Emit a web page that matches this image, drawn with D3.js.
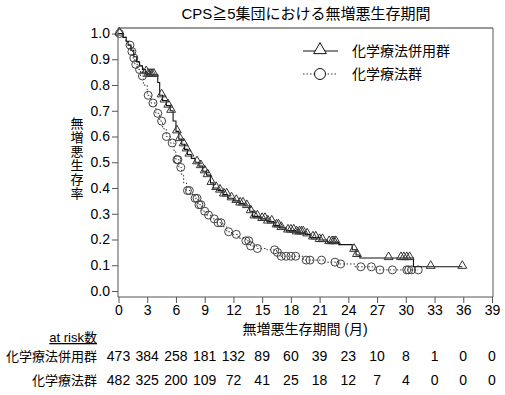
<!DOCTYPE html>
<html><head><meta charset="utf-8">
<script src="https://cdn.jsdelivr.net/npm/d3@7"></script>
<style>
body{margin:0;background:#fff;}
text{font-family:"Liberation Sans","Noto Sans CJK JP",Arial,sans-serif;fill:#000;}
</style></head>
<body><svg id="c" width="505" height="395"></svg>
<script>
const title = "CPS≧5集団における無増悪生存期間";
const groups = ["化学療法併用群", "化学療法群"];
const xTicks = [0,3,6,9,12,15,18,21,24,27,30,33,36,39];
const yTicks = [0,0.1,0.2,0.3,0.4,0.5,0.6,0.7,0.8,0.9,1.0];

// combo arm (solid, triangles): step times and survival
const comboT = [0,0.5,0.8,1.0,1.3,1.6,1.9,2.2,2.5,2.8,3.0,4.1,4.3,4.6,5.0,5.4,5.7,6.0,6.3,6.6,6.9,7.2,7.6,8.0,8.4,8.8,9.2,9.6,9.9,10.4,10.9,11.4,12.0,12.6,13.2,13.7,14.0,14.8,15.5,16.2,16.8,17.5,18.5,19.5,20.0,21.0,21.8,23.0,24.4,24.8,25.2,30.8];
const comboS = [1.0,0.985,0.97,0.955,0.935,0.91,0.89,0.875,0.86,0.85,0.84,0.81,0.76,0.74,0.72,0.70,0.66,0.62,0.59,0.57,0.55,0.53,0.515,0.50,0.485,0.465,0.45,0.42,0.40,0.39,0.375,0.36,0.35,0.34,0.33,0.31,0.29,0.28,0.27,0.255,0.245,0.235,0.228,0.22,0.208,0.198,0.19,0.18,0.16,0.14,0.128,0.094];
const comboEnd = 35.9;
const comboCens = [0.1,2.9,3.1,3.3,3.5,3.7,4.5,4.8,5.2,5.5,6.1,6.4,6.8,7.1,7.4,8.2,8.6,9.0,9.3,9.7,10.2,10.6,11.0,11.3,11.8,12.3,12.7,13.0,13.4,13.8,14.2,14.5,15.0,15.3,15.6,16.0,16.5,16.7,17.0,17.7,18.0,18.3,18.6,18.9,19.1,19.3,19.7,20.3,20.6,21.0,21.3,22.0,22.3,22.5,22.7,24.6,24.9,28.2,29.5,29.8,30.1,30.4,32.6,35.9];

// chemo arm (dotted, circles)
const chemoT = [0,0.4,0.8,1.1,1.3,1.5,1.7,2.0,2.3,2.6,3.0,3.4,3.9,4.3,4.6,5.0,5.4,5.8,6.0,6.3,6.6,6.8,7.1,7.5,8.0,8.3,8.7,9.2,9.6,10.3,10.9,11.3,11.8,12.5,13.3,13.8,14.5,15.5,16.5,16.9,19.3,21.5,23.0,24.7,26.9];
const chemoS = [1.0,0.985,0.97,0.955,0.93,0.905,0.88,0.86,0.835,0.80,0.76,0.73,0.69,0.66,0.63,0.60,0.575,0.54,0.51,0.48,0.45,0.42,0.39,0.375,0.36,0.335,0.31,0.295,0.28,0.265,0.25,0.23,0.22,0.205,0.195,0.175,0.165,0.16,0.15,0.135,0.12,0.112,0.105,0.094,0.082];
const chemoEnd = 31.3;
const chemoCens = [0.1,1.2,1.4,1.6,1.8,2.2,2.5,3.1,3.6,4.1,4.5,5.0,5.6,6.1,6.2,6.5,7.2,7.4,8.0,8.2,8.4,8.6,9.0,9.4,10.0,10.4,10.7,11.5,12.3,13.3,13.6,13.8,14.5,16.3,16.6,17.0,17.5,18.0,18.5,19.6,20.0,21.2,22.6,23.2,25.3,26.4,27.3,28.6,30.1,30.3,30.6,31.3];

const riskCombo = [473,384,258,181,132,89,60,39,23,10,8,1,0,0];
const riskChemo = [482,325,200,109,72,41,25,18,12,7,4,0,0,0];

const svg = d3.select("#c");
const L=118.5, R=492, T=33.5, B=291;
const x = d3.scaleLinear().domain([0,39]).range([L,R]);
const y = d3.scaleLinear().domain([0,1]).range([B,T]);
const axisCol = "#555";

// frame
svg.append("line").attr("x1",118).attr("x2",493).attr("y1",28).attr("y2",28).attr("stroke","#333");
svg.append("line").attr("x1",493).attr("x2",493).attr("y1",28).attr("y2",297).attr("stroke",axisCol);

const xa = svg.append("g").attr("transform","translate(0,297)")
  .call(d3.axisBottom(x).tickValues(xTicks).tickSize(6).tickPadding(2).tickFormat(d3.format("d")));
const ya = svg.append("g").attr("transform","translate(118,0)")
  .call(d3.axisLeft(y).tickValues(yTicks).tickSize(6).tickPadding(2).tickFormat(d3.format(".1f")));
[xa,ya].forEach(a=>{
  a.selectAll("path,line").attr("stroke",axisCol);
  a.select(".domain").attr("d", a===xa ? "M118,0H493" : "M0,28V297");
  a.selectAll("text").style("font-size","14px").style("font-family","Liberation Sans, Arial, sans-serif").attr("fill","#000");
});

function stepFn(ts, ss){ return t => { let v=ss[0]; for(let i=0;i<ts.length;i++){ if(ts[i]<=t) v=ss[i]; } return v; }; }
function pts(ts, ss, end){ const p = ts.map((t,i)=>[t,ss[i]]); p.push([end, ss[ss.length-1]]); return p; }
const line = d3.line().x(d=>x(d[0])).y(d=>y(d[1])).curve(d3.curveStepAfter);

// chemo
svg.append("path").attr("d", line(pts(chemoT,chemoS,chemoEnd))).attr("fill","none")
  .attr("stroke","#333").attr("stroke-width",1).attr("stroke-dasharray","1.5,2");
const fChemo = stepFn(chemoT, chemoS);
svg.append("g").selectAll("circle").data(chemoCens).join("circle")
  .attr("cx",d=>x(d)).attr("cy",d=>y(fChemo(d))).attr("r",4)
  .attr("fill","none").attr("stroke","#444").attr("stroke-width",1);

// combo
svg.append("path").attr("d", line(pts(comboT,comboS,comboEnd))).attr("fill","none")
  .attr("stroke","#111").attr("stroke-width",1.1);
const fCombo = stepFn(comboT, comboS);
const tri = d3.symbol().type(d3.symbolTriangle).size(34);
svg.append("g").selectAll("path").data(comboCens).join("path")
  .attr("d",tri).attr("transform",d=>`translate(${x(d)},${y(fCombo(d))-1})`)
  .attr("fill","none").attr("stroke","#333").attr("stroke-width",1);

// title
svg.append("text").attr("x",306).attr("y",19).attr("text-anchor","middle").style("font-size","15px").text(title);

// y label vertical (single text, vertical writing mode)
svg.append("text").attr("x",76).attr("y",117)
  .style("writing-mode","vertical-rl").style("text-orientation","upright")
  .style("font-size","13px").style("letter-spacing","1px")
  .text("無増悪生存率");

// x label
svg.append("text").attr("x",305).attr("y",334).attr("text-anchor","middle").style("font-size","14px").text("無増悪生存期間 (月)");

// legend
const lg = svg.append("g");
lg.append("line").attr("x1",303).attr("x2",338).attr("y1",51).attr("y2",51).attr("stroke","#111");
lg.append("path").attr("d",d3.symbol().type(d3.symbolTriangle).size(70)).attr("transform","translate(320,50)").attr("fill","#fff").attr("stroke","#111");
lg.append("text").attr("x",352).attr("y",56).style("font-size","14px").text(groups[0]);
lg.append("line").attr("x1",303).attr("x2",338).attr("y1",74).attr("y2",74).attr("stroke","#333").attr("stroke-dasharray","1.5,2");
lg.append("circle").attr("cx",320).attr("cy",74).attr("r",5.5).attr("fill","#fff").attr("stroke","#111");
lg.append("text").attr("x",352).attr("y",79).style("font-size","14px").text(groups[1]);

// at risk
svg.append("text").attr("x",97).attr("y",342).attr("text-anchor","end").style("font-size","13px").style("text-decoration","underline").text("at risk数");
[[groups[0],riskCombo,361],[groups[1],riskChemo,385]].forEach(([g,vals,yy])=>{
  svg.append("text").attr("x",97).attr("y",yy).attr("text-anchor","end").style("font-size","13px").text(g);
  svg.append("g").selectAll("text").data(vals).join("text")
    .attr("x",(d,i)=>x(xTicks[i])).attr("y",yy).attr("text-anchor","middle").style("font-size","14px").text(d=>d);
});
</script></body></html>
